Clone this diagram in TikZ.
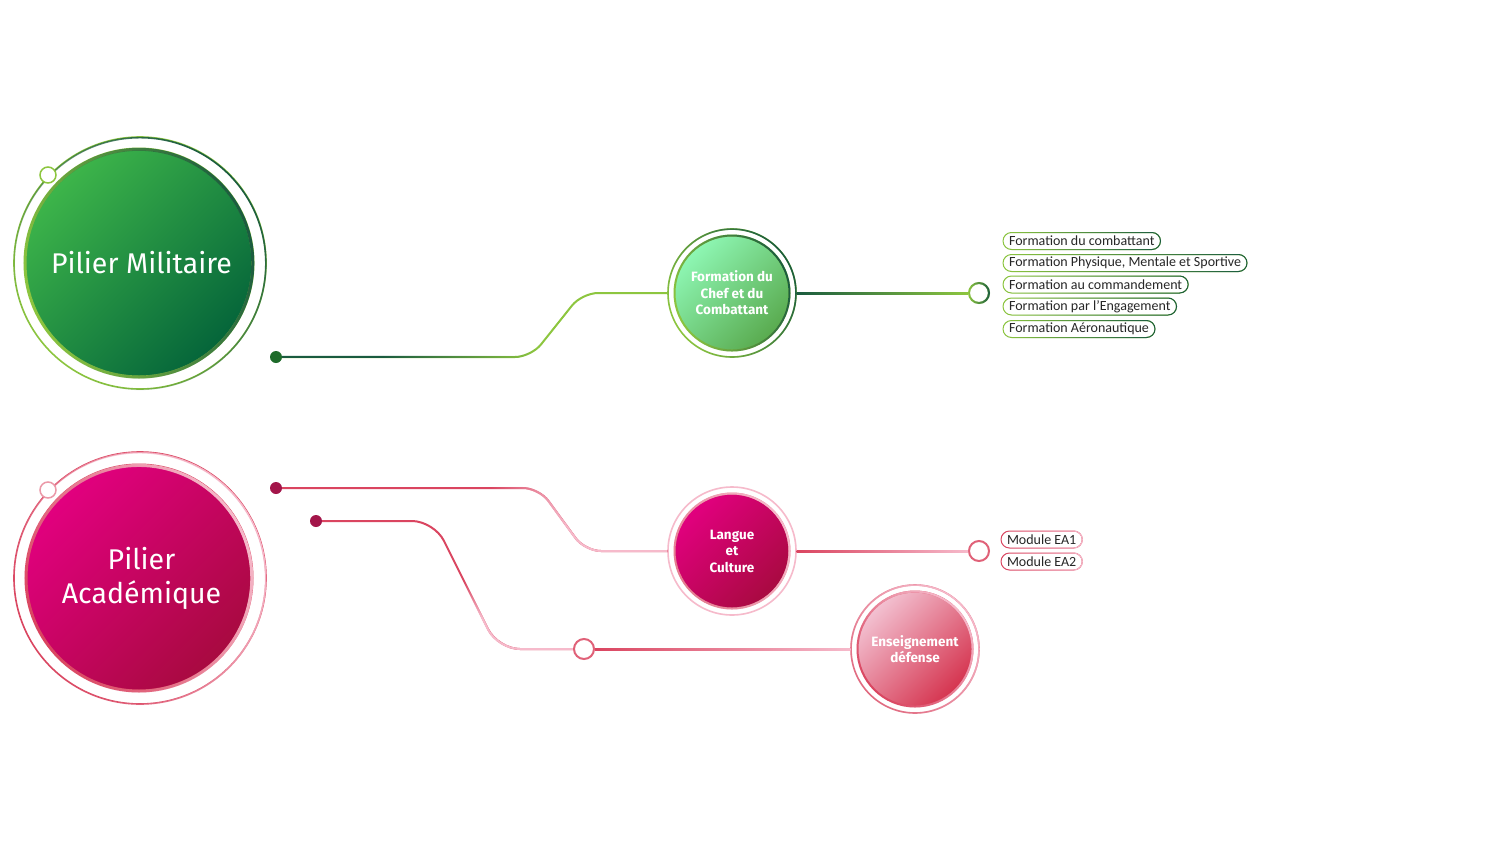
\documentclass[tikz,border=0pt]{standalone}
\usepackage{fontspec}
\setmainfont{Carlito}
\newfontfamily\dinf{Fira Sans}
\usetikzlibrary{fadings,calc}

\definecolor{gDark}{HTML}{1A5B3F}
\definecolor{gLight}{HTML}{8DC63F}
\definecolor{gFillA}{HTML}{3DB54A}
\definecolor{gFillB}{HTML}{05653A}
\definecolor{gDot}{HTML}{1E6B2A}
\definecolor{mintA}{HTML}{8EF7B4}
\definecolor{mintB}{HTML}{59AA4E}
\definecolor{pRed}{HTML}{DA4560}
\definecolor{pLight}{HTML}{F6BACB}
\definecolor{pFillA}{HTML}{E2007F}
\definecolor{pFillB}{HTML}{A80A40}
\definecolor{pDot}{HTML}{A3154A}
\definecolor{eFillA}{HTML}{F3C2D2}
\definecolor{eFillB}{HTML}{D5334E}

\pgfdeclarehorizontalshading{shlate}{100bp}{color(0bp)=(black); color(52bp)=(black); color(62bp)=(white); color(100bp)=(white)}
\pgfdeclarehorizontalshading{shearly}{100bp}{color(0bp)=(white); color(38bp)=(white); color(58bp)=(black); color(100bp)=(black)}
\tikzfading[name=fin, left color=transparent!100, right color=transparent!0]
\tikzfading[name=late, shading=shlate]
\tikzfading[name=early, shading=shearly]

\tikzset{
  disc/.style n args={3}{circle, inner sep=0pt, minimum size=#1, top color=#2, bottom color=#3, shading angle=45, text=white, align=center},
  ringline/.style={line width=1.6pt},
  knob/.style={circle, inner sep=0pt, minimum size=16pt, fill=white, draw=#1, line width=1.5pt},
  endknob/.style={circle, inner sep=0pt, minimum size=20pt, fill=white, draw=#1, line width=2pt},
  dotnode/.style={circle, inner sep=0pt, minimum size=12pt, fill=#1},
  conn/.style={line width=2pt, rounded corners=16pt},
  tag/.style={draw=#1, line width=1pt, rounded corners=8.5pt, minimum height=17pt, inner xsep=6pt, inner ysep=0pt, outer sep=0pt, anchor=west, font=\fontsize{14}{15}\selectfont, text=black!85},
  tagover/.style={line width=1pt, rounded corners=8.5pt, path fading=fin},
  bigfont/.style={font=\dinf\fontsize{28.5}{34}\selectfont},
  midfont/.style={font=\dinf\bfseries\fontsize{13.5}{16.5}\selectfont},
}

\begin{document}
\begin{tikzpicture}[x=1pt,y=-1pt]
\fill[white] (0,0) rectangle (1500,844);

% ===================== green branch =====================
\node[disc={228pt}{gFillA}{gFillB}, bigfont] (pm) at (139,263) {\hspace*{5pt}Pilier Militaire};
\draw[gLight, line width=3pt] (pm.center) circle (114);
\draw[gDark, line width=3pt, path fading=fin, fading angle=20] (pm.center) circle (114);
\draw[gLight, ringline] (140,263) circle (126);
\draw[gDark, ringline, path fading=fin, fading angle=45] (140,263) circle (126);
\node[knob=gLight] (pmk) at (48,175) {};

\node[dotnode=gDot] (gd) at (276,357) {};

\node[disc={116pt}{mintA}{mintB}, midfont, outer sep=6.5pt] (fc) at (732,293) {Formation du\\Chef et du\\Combattant};
\draw[gLight, line width=2pt] (fc.center) circle (57.5);
\draw[gDark, line width=2pt, path fading=fin, fading angle=20] (fc.center) circle (57.5);
\draw[gLight, ringline] (fc.center) circle (64);
\draw[gDark, ringline, path fading=fin, fading angle=30] (fc.center) circle (64);

\node[endknob=gLight] (sg1) at (979,293) {};
\draw[gDark, line width=2pt, path fading=fin] (sg1.center) circle (10);

% connectors
\draw[gLight, conn] (gd.east) -- (531,357) -- (582,293) -- (fc.west);
\draw[gDark, conn, path fading=early] (gd.east) -- (531,357) -- (582,293) -- (fc.west);
\shade[left color=gDark, right color=gLight] ($(fc.east)+(0,-1)$) rectangle ($(sg1.west)+(0,1)$);

% tags
\node[tag=gLight] (t1) at (1003,241) {Formation du combattant};
\node[tag=gLight] (t2) at (1003,263) {Formation Physique, Mentale et Sportive};
\node[tag=gLight] (t3) at (1003,284.5) {Formation au commandement};
\node[tag=gLight] (t4) at (1003,306.5) {Formation par l’Engagement};
\node[tag=gLight] (t5) at (1003,329) {Formation Aéronautique};
\foreach \n in {t1,t2,t3,t4,t5}
  \draw[gDark, tagover] (\n.south west) rectangle (\n.north east);

% ===================== pink branch =====================
\node[disc={226pt}{pFillA}{pFillB}, bigfont] (pa) at (139,578) {\hspace*{5pt}Pilier\\\hspace*{5pt}Académique};
\draw[pRed, line width=3pt] (pa.center) circle (113);
\draw[pLight, line width=3pt, path fading=fin, fading angle=30] (pa.center) circle (113);
\draw[pRed, ringline] (140,578) circle (126);
\draw[pLight, ringline, path fading=fin, fading angle=30] (140,578) circle (126);
\node[knob=pRed!55] (pak) at (48,490) {};

\node[dotnode=pDot] (pd1) at (276,488) {};
\node[dotnode=pDot] (pd2) at (316,521) {};

\node[disc={116pt}{pFillA}{pFillB}, midfont, outer sep=6.5pt] (lc) at (732,551) {Langue\\et\\Culture};
\draw[pRed!70, line width=2pt] (lc.center) circle (57.5);
\draw[pLight, line width=2pt, path fading=fin, fading angle=30] (lc.center) circle (57.5);
\draw[pLight, ringline] (lc.center) circle (64);

\node[disc={116pt}{eFillA}{eFillB}, midfont, outer sep=6.5pt] (en) at (915,649) {Enseignement\\défense};
\draw[pRed, line width=2pt] (en.center) circle (57.5);
\draw[pLight, line width=2pt, path fading=fin, fading angle=45] (en.center) circle (57.5);
\draw[pRed!80, ringline] (en.center) circle (64);
\draw[pLight, ringline, path fading=fin, fading angle=45] (en.center) circle (64);

\node[endknob=pRed!85] (sp1) at (979,551) {};
\node[endknob=pRed!85] (sp2) at (584,649) {};

% connectors
\draw[pRed, conn] (pd1.east) -- (539,488) -- (585,551) -- (lc.west);
\draw[pLight, conn, path fading=late] (pd1.east) -- (539,488) -- (585,551) -- (lc.west);
\draw[pRed, conn, rounded corners=22pt] (pd2.east) -- (434,521) -- (498,649) -- (sp2.west);
\draw[pLight, conn, rounded corners=22pt, path fading=late, fading angle=-30] (pd2.east) -- (434,521) -- (498,649) -- (sp2.west);
\shade[left color=pRed, right color=pLight] ($(lc.east)+(0,-1)$) rectangle ($(sp1.west)+(0,1)$);
\shade[left color=pRed, right color=pLight] ($(sp2.east)+(0,-1)$) rectangle ($(en.west)+(0,1)$);

% tags
\node[tag=pRed] (m1) at (1001,539.5) {Module EA1};
\node[tag=pRed] (m2) at (1001,561.5) {Module EA2};
\foreach \n in {m1,m2}
  \draw[pLight, tagover] (\n.south west) rectangle (\n.north east);
\end{tikzpicture}
\end{document}
